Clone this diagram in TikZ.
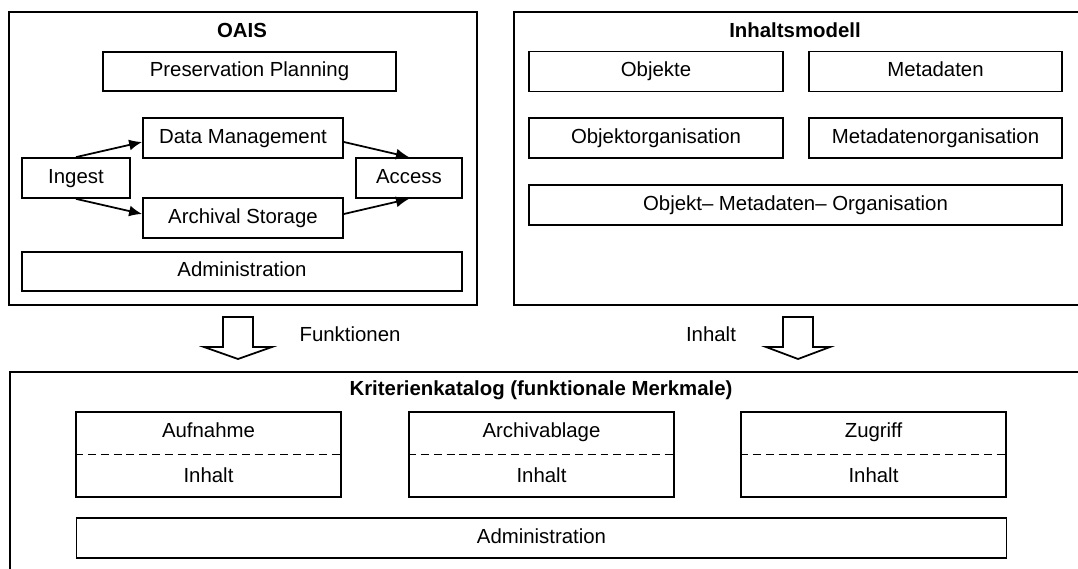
\documentclass[tikz,border=0pt]{standalone}
\usepackage{fontspec}
\setmainfont{Liberation Sans}
\usepackage{tikz}
\usetikzlibrary{positioning,arrows.meta,calc}

\begin{document}
\begin{tikzpicture}[
    font=\fontsize{11.6}{13}\selectfont,
    every node/.style={text height=1.6ex, text depth=0.45ex},
    frame/.style={draw, line width=1pt, inner sep=0pt},
    box/.style={draw, line width=1pt, inner sep=0pt, minimum height=0.8cm},
    ttl/.style={font=\fontsize{11.6}{13}\selectfont\bfseries},
    flow/.style={-{Latex[length=0.26cm,width=0.22cm]}, line width=1pt}]
  \clip (0,0) rectangle (21.56,-11.38);
  \node[frame, minimum width=9.36cm, minimum height=5.86cm] (oais) at (4.86,-3.17) {};
  \node[ttl] (oaisttl) at (4.84,-0.64) {OAIS};
  \node[box, minimum width=5.86cm, minimum height=0.78cm] (plan) at (4.99,-1.43) {Preservation Planning};
  \node[box, minimum width=4cm] (dm) at (4.86,-2.76) {Data Management};
  \node[box, minimum width=4cm] (as) at (4.86,-4.36) {Archival Storage};
  \node[box, minimum width=2.16cm] (ingest) at (1.52,-3.56) {Ingest};
  \node[box, minimum width=2.12cm] (access) at (8.18,-3.56) {Access};
  \node[box, minimum width=8.8cm, minimum height=0.78cm] (admin) at (4.84,-5.43) {Administration};
  \draw[flow] (ingest.north) -- ($(dm.west)+(0,-0.08)$);
  \draw[flow] (ingest.south) -- ($(as.west)+(0,0.08)$);
  \draw[flow] ($(dm.east)+(0,-0.08)$) -- (access.north);
  \draw[flow] ($(as.east)+(0,0.08)$) -- (access.south);

  \node[frame, minimum width=11.92cm, minimum height=5.86cm] (modell) at (16.24,-3.17) {};
  \node[ttl] (modellttl) at (15.9,-0.64) {Inhaltsmodell};
  \foreach \nm/\x/\y/\lbl in {obj/13.12/-1.43/Objekte, meta/18.71/-1.43/Metadaten,
      objorg/13.12/-2.76/Objektorganisation, metaorg/18.71/-2.76/Metadatenorganisation}
    \node[box, minimum width=5.07cm] (\nm) at (\x,\y) {\lbl};
  \node[box, minimum width=10.66cm] (omo) at (15.91,-4.1) {Objekt– Metadaten– Organisation};

  \foreach \x/\h in {4.76/0.68, 15.96/0.64}
    \draw[line width=1pt] (\x-0.3,-6.34) -- (\x-0.3,-6.94) -- (\x-\h,-6.94) -- (\x,-7.18)
      -- (\x+\h,-6.94) -- (\x+0.3,-6.94) -- (\x+0.3,-6.34) -- cycle;
  \node (funk) at (7.0,-6.72) {Funktionen};
  \node (inh) at (14.22,-6.72) {Inhalt};

  \node[frame, minimum width=22cm, minimum height=4.36cm] (katalog) at (11.2,-9.62) {};
  \node[ttl] (katalogttl) at (10.82,-7.8) {Kriterienkatalog (funktionale Merkmale)};
  \foreach \nm/\x/\lbl in {auf/4.17/Aufnahme, arch/10.83/Archivablage, zug/17.47/Zugriff} {
    \node[box, minimum width=5.3cm, minimum height=1.7cm] (\nm) at (\x,-9.09) {};
    \draw[line width=0.8pt, dash pattern=on 4.5pt off 2.8pt] (\nm.west) -- (\nm.east);
    \node (\nm top) at (\x,-8.64) {\lbl};
    \node (\nm bot) at (\x,-9.54) {Inhalt};
  }
  \node[box, minimum width=18.6cm] (verw) at (10.83,-10.76) {Administration};
\end{tikzpicture}
\end{document}
